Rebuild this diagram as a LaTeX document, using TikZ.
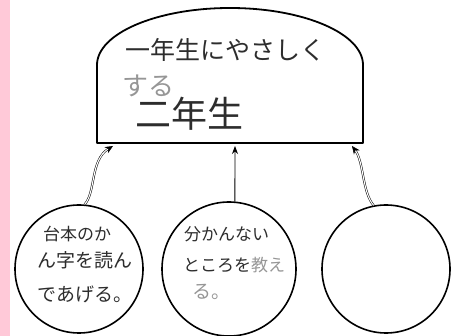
\documentclass[tikz,border=0pt]{standalone}
\usepackage{fontspec}
\newfontfamily\jp{Noto Sans CJK JP}
\usetikzlibrary{arrows.meta}
\definecolor{pinkstrip}{RGB}{255,201,216}
\definecolor{ink}{RGB}{45,45,45}
\definecolor{faint}{RGB}{150,150,150}
\tikzset{
  bubble/.style={circle, draw=black, line width=1.6pt, minimum size=#1, inner sep=0pt},
  link/.style={draw=black, line width=0.5pt, double=white, double distance=1.1pt, -{Stealth[length=8pt,width=7pt]}},
  plink/.style={draw=black, line width=0.9pt, -{Stealth[length=8pt,width=6pt]}},
  hand/.style={text=ink, inner sep=0pt, anchor=west, font=\jp\fontsize{#1}{#1}\selectfont},
}
\begin{document}
\begin{tikzpicture}[x=1pt, y=-1pt]
\useasboundingbox (0,0) rectangle (452,336);
\fill[white] (0,0) rectangle (452,336);
\fill[pinkstrip] (0,0) rectangle (10,336);
% dome
\draw[line width=1.8pt, line join=round] (97,143) -- (97,65) arc[start angle=180, end angle=0, x radius=133pt, y radius=57pt] -- (363,143) -- cycle;
\coordinate (t1) at (113,146);
\coordinate (t2) at (235,146);
\coordinate (t3) at (352,146);
% dome text
\node[hand=25] (d1) at (125,50) {一年生にやさしく};
\node[hand=26, text=faint] (d2) at (122,86) {する};
\node[hand=36] (d3) at (135,114) {二年生};
% circles
\node[bubble=128pt] (c1) at (79,269) {};
\node[bubble=134pt] (c2) at (229,269) {};
\node[bubble=128pt] (c3) at (386,269) {};
% circle text
\node[hand=17] (a1) at (43,234) {台本のか};
\node[hand=19] (a2) at (37,260) {ん字を読ん};
\node[hand=19] (a3) at (37,294) {であげる。};
\node[hand=17] (b1) at (184,234) {分かんない};
\node[hand=17] (b2) at (183,265) {ところを\textcolor{faint}{教え}};
\node[hand=19, text=faint] (b3) at (192,292) {る。};
% connectors
\draw[link] (c1.85) .. controls (96,192) and (90,160) .. (t1);
\draw[plink] (c2.85) -- (t2);
\draw[link] (c3.101) .. controls (362,192) and (364,162) .. (t3);
\end{tikzpicture}
\end{document}
